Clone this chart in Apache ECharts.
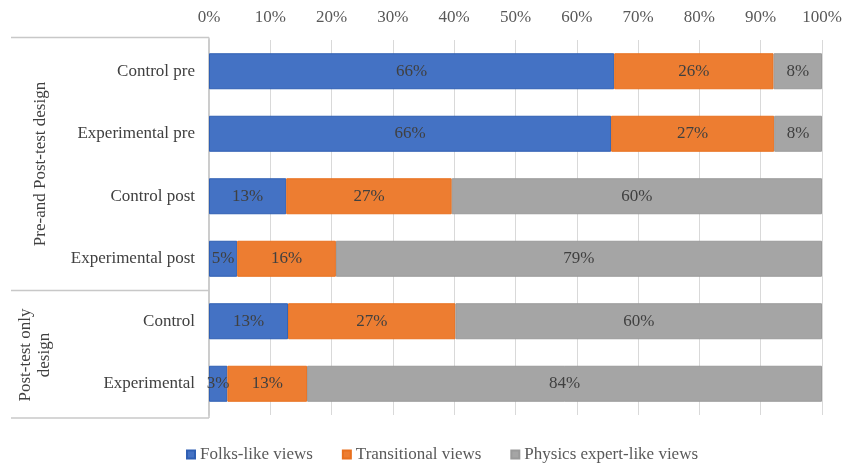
<!DOCTYPE html>
<html>
<head>
<meta charset="utf-8">
<script src="https://cdn.jsdelivr.net/npm/echarts@6/dist/echarts.min.js"></script>
<style>
html,body{margin:0;padding:0;background:#fff;}
#chart{width:846px;height:464px;}
</style>
</head>
<body>
<div id="chart"></div>
<script>
var categories = ['Control pre', 'Experimental pre', 'Control post', 'Experimental post', 'Control', 'Experimental'];
var folksLike = [66.1, 65.6, 12.6, 4.6, 12.9, 3.0];
var transitional = [26.0, 26.6, 27.0, 16.1, 27.3, 13.0];
var expertLike = [7.9, 7.8, 60.4, 79.3, 59.8, 84.0];
var seriesNames = ['Folks-like views', 'Transitional views', 'Physics expert-like views'];
var groupLabels = ['Pre-and Post-test design', 'Post-test only\ndesign'];
var xTicks = [0, 10, 20, 30, 40, 50, 60, 70, 80, 90, 100];

var colors = ['#4472C4', '#ED7D31', '#A5A5A5'];
var borders = ['#2F5FB3', '#E8701F', '#9A9A9A'];
var FONT = '"Liberation Serif", "Times New Roman", serif';
var FS = 17;

var chart = echarts.init(document.getElementById('chart'));

function mkSeries(name, data, i) {
  return {
    name: name,
    type: 'bar',
    stack: 'total',
    barWidth: 36,
    data: data,
    itemStyle: { color: colors[i], borderColor: borders[i], borderWidth: 1 },
    label: {
      show: true,
      position: 'inside',
      color: '#404040',
      fontFamily: FONT,
      fontSize: FS,
      formatter: function (p) { return Math.round(p.value) + '%'; }
    },
    emphasis: { disabled: true }
  };
}

chart.setOption({
  animation: false,
  backgroundColor: '#ffffff',
  grid: { left: 209, right: 24, top: 40, bottom: 49, containLabel: false },
  xAxis: {
    type: 'value',
    position: 'top',
    min: xTicks[0],
    max: xTicks[xTicks.length - 1],
    interval: 10,
    axisLine: { show: false },
    axisTick: { show: false },
    splitLine: { show: true, lineStyle: { color: '#D9D9D9', width: 1 } },
    axisLabel: {
      margin: 14,
      color: '#595959',
      fontFamily: FONT,
      fontSize: FS,
      formatter: function (v) { return v + '%'; }
    }
  },
  yAxis: {
    type: 'category',
    inverse: true,
    data: categories,
    axisLine: { show: true, lineStyle: { color: '#C8C8C8', width: 1.5 } },
    axisTick: { show: false },
    axisLabel: {
      margin: 14,
      color: '#404040',
      fontFamily: FONT,
      fontSize: FS
    }
  },
  legend: {
    left: 181,
    top: 441,
    itemWidth: 8,
    itemHeight: 8,
    itemGap: 29,
    icon: 'rect',
    selectedMode: false,
    data: seriesNames,
    textStyle: { color: '#595959', fontFamily: FONT, fontSize: FS }
  },
  series: [
    mkSeries(seriesNames[0], folksLike, 0),
    mkSeries(seriesNames[1], transitional, 1),
    mkSeries(seriesNames[2], expertLike, 2)
  ],
  graphic: [
    { type: 'line', shape: { x1: 11, y1: 37.5, x2: 209, y2: 37.5 }, style: { stroke: '#C8C8C8', lineWidth: 1.5 } },
    { type: 'line', shape: { x1: 209, y1: 37.5, x2: 209, y2: 418 }, style: { stroke: '#C8C8C8', lineWidth: 1.5 } },
    { type: 'line', shape: { x1: 11, y1: 290.5, x2: 209, y2: 290.5 }, style: { stroke: '#C8C8C8', lineWidth: 1.5 } },
    { type: 'line', shape: { x1: 11, y1: 418, x2: 209, y2: 418 }, style: { stroke: '#C8C8C8', lineWidth: 1.5 } },
    {
      type: 'text', x: 41, y: 164, rotation: Math.PI / 2,
      style: { text: groupLabels[0], fill: '#404040', font: FS + 'px ' + FONT, textAlign: 'center', textVerticalAlign: 'middle' }
    },
    {
      type: 'text', x: 35, y: 355, rotation: Math.PI / 2,
      style: { text: groupLabels[1], fill: '#404040', font: FS + 'px ' + FONT, textAlign: 'center', textVerticalAlign: 'middle', lineHeight: 19 }
    }
  ]
});
</script>
</body>
</html>
